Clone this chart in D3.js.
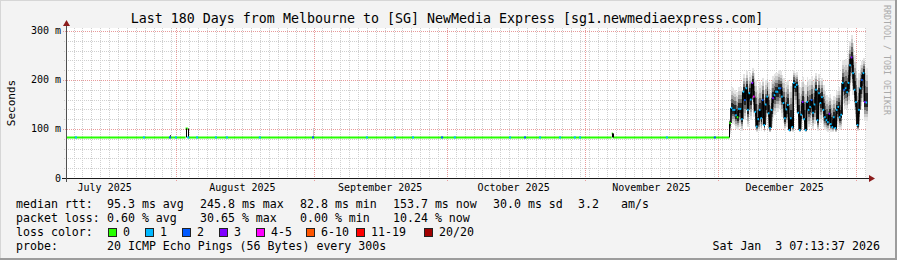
<!DOCTYPE html>
<html>
<head>
<meta charset="utf-8">
<script src="https://cdn.jsdelivr.net/npm/d3@7"></script>
<style>
  html, body { margin: 0; padding: 0; background: #f3f3f3; }
  svg { display: block; }
  text { font-family: 'DejaVu Sans Mono', monospace; fill: #000; white-space: pre; }
</style>
</head>
<body>
<div id="chart"></div>
<script>
// --- data ---
const title = 'Last 180 Days from Melbourne to [SG] NewMedia Express [sg1.newmediaexpress.com]';
const rangeStart = '2025-07-07T07:13';
const rangeEnd = '2026-01-03T07:13';
const yTicks = [0, 100, 200, 300];
const yTickLabels = ['0', '100 m', '200 m', '300 m'];
const monthLabels = ['July 2025', 'August 2025', 'September 2025', 'October 2025', 'November 2025', 'December 2025'];
const monthLabelDates = ['2025-07-16T00:00', '2025-08-16T00:00', '2025-09-16T00:00', '2025-10-16T00:00', '2025-11-16T00:00', '2025-12-16T00:00'];

// quiet period: median rtt (ms) as steps [time, value]
const flatMedian = [
    ['2025-07-07T07:13', 82.8],
    ['2025-08-03T05:00', 101],
    ['2025-08-03T17:00', 82.8],
    ['2025-11-07T02:00', 91],
    ['2025-11-07T08:00', 82.8],
];
// quiet period: intervals with packet loss [time, lost pings]
const flatLoss = [
    ['2025-07-09T13:00', 1], ['2025-07-24T20:00', 1], ['2025-07-30T17:00', 2],
    ['2025-08-01T01:00', 1], ['2025-08-03T19:00', 1], ['2025-08-05T19:00', 1],
    ['2025-08-10T01:00', 1], ['2025-08-12T12:00', 1], ['2025-08-19T22:00', 1],
    ['2025-08-31T21:00', 2], ['2025-09-13T00:00', 1], ['2025-09-19T07:00', 1],
    ['2025-09-23T09:00', 1], ['2025-09-29T22:00', 2], ['2025-10-02T19:00', 1],
    ['2025-10-15T05:00', 1], ['2025-10-18T14:00', 2], ['2025-10-21T23:00', 1],
    ['2025-10-26T11:00', 1], ['2025-10-29T19:00', 1], ['2025-10-30T23:00', 1],
    ['2025-11-19T12:00', 1], ['2025-11-30T07:00', 2],
];
// quiet period: isolated smoke [time, low ms, high ms]
const flatSmoke = [
    ['2025-07-30T15:00', 83, 87],
    ['2025-08-31T20:00', 83, 102],
    ['2025-11-07T03:00', 83, 92],
];

// busy period, one value every 8 hours from noisyStart
const noisyStart = '2025-12-03T14:00';
const noisyStepHours = 8;
const noisyMedian = [
    112, 143, 139, 139, 128, 124, 141, 141, 120, 176,
    159, 183, 139, 173, 160, 194, 166, 135, 105, 120,
    139, 122, 159, 108, 150, 166, 132, 102, 139, 163,
    169, 176, 176, 183, 183, 166, 153, 122, 140, 149,
    98, 122, 104, 194, 186, 190, 133, 98, 129, 155,
    120, 98, 155, 139, 145, 159, 133, 150, 180, 118,
    173, 153, 165, 139, 124, 118, 114, 131, 110, 104,
    124, 102, 139, 145, 124, 129, 194, 180, 183, 175,
    194, 230, 246, 214, 180, 155, 108, 139, 183, 200,
    214, 155, 154];
const noisyHigh = [
    120, 185, 183, 180, 176, 175, 186, 186, 175, 212,
    205, 218, 200, 214, 210, 225, 214, 200, 180, 185,
    195, 190, 205, 180, 200, 210, 195, 175, 195, 208,
    212, 215, 215, 220, 218, 210, 204, 190, 196, 200,
    175, 188, 185, 220, 214, 216, 198, 185, 196, 206,
    192, 190, 206, 200, 202, 208, 198, 205, 215, 190,
    212, 200, 205, 190, 178, 170, 166, 172, 162, 160,
    168, 165, 178, 185, 180, 190, 240, 238, 242, 240,
    255, 280, 292, 275, 250, 235, 205, 215, 230, 238,
    245, 228, 225];
const noisyLow = [
    90, 112, 110, 108, 100, 98, 105, 105, 96, 135,
    118, 140, 104, 130, 118, 150, 125, 100, 93, 95,
    104, 96, 118, 93, 110, 125, 100, 93, 104, 122,
    128, 134, 134, 140, 140, 125, 112, 96, 104, 108,
    93, 96, 93, 150, 142, 146, 100, 93, 98, 116,
    96, 93, 114, 104, 108, 118, 100, 110, 138, 95,
    130, 112, 122, 104, 98, 95, 94, 100, 94, 93,
    98, 93, 104, 106, 98, 100, 150, 138, 140, 134,
    150, 180, 195, 170, 140, 116, 95, 104, 138, 155,
    165, 116, 116];
const noisyLoss = [
    0, 1, 1, 1, 1, 0, 1, 1, 1, 1,
    2, 1, 1, 1, 1, 3, 4, 1, 1, 1,
    1, 1, 2, 1, 1, 1, 1, 1, 1, 3,
    1, 1, 1, 1, 2, 1, 1, 1, 1, 1,
    1, 1, 1, 1, 1, 1, 1, 1, 1, 3,
    1, 1, 1, 1, 1, 2, 1, 1, 1, 1,
    1, 1, 1, 1, 1, 1, 1, 3, 1, 1,
    1, 1, 1, 1, 1, 1, 1, 2, 1, 1,
    1, 1, 3, 1, 1, 1, 1, 1, 1, 2,
    1, 3, 1];

const lossLabels = ['0', '1', '2', '3', '4-5', '6-10', '11-19', '20/20'];
const lossColors = ['#26ff00', '#00b8ff', '#0059ff', '#7e00ff', '#ff00ff', '#ff5500', '#ff0000', '#a10000'];

const statRows = [
    ['median rtt:', ['95.3 ms avg', '245.8 ms max', '82.8 ms min', '153.7 ms now', '30.0 ms sd', '3.2', 'am/s']],
    ['packet loss:', ['0.60 % avg', '30.65 % max', '0.00 % min', '10.24 % now']],
];
const probeText = '20 ICMP Echo Pings (56 Bytes) every 300s';
const stampText = 'Sat Jan  3 07:13:37 2026';

// --- drawing ---
const width = 897;
const height = 260;
const parse = d3.utcParse('%Y-%m-%dT%H:%M');

const x = d3.scaleUtc().domain([parse(rangeStart), parse(rangeEnd)]).range([66, 866]);
const y = d3.scaleLinear().domain([0, 306]).range([178, 28]);

const lossBucket = (n) => (n <= 3 ? n : n <= 5 ? 4 : n <= 10 ? 5 : n < 20 ? 6 : 7);

const svg = d3.select('#chart').append('svg')
    .attr('width', width).attr('height', height);

// frame
svg.append('rect').attr('width', width).attr('height', height).attr('fill', '#f3f3f3');
svg.append('rect').attr('x', 0).attr('y', height - 2).attr('width', width).attr('height', 2).attr('fill', '#9c9c9c');
svg.append('rect').attr('x', width - 2).attr('y', 0).attr('width', 2).attr('height', height).attr('fill', '#9c9c9c');
svg.append('rect').attr('x', 0).attr('y', 0).attr('width', width - 2).attr('height', 1).attr('fill', '#d6d6d6');
svg.append('rect').attr('x', 0).attr('y', 0).attr('width', 1).attr('height', height - 2).attr('fill', '#d6d6d6');

// canvas
const [cx0, cx1] = x.range();
svg.append('rect')
    .attr('x', cx0).attr('y', y(306))
    .attr('width', cx1 - cx0).attr('height', y(0) - y(306))
    .attr('fill', '#ffffff');

const grid = svg.append('g').attr('shape-rendering', 'crispEdges');
const px = (v) => Math.round(v) + 0.5;

// minor grid, every second day and every 20 ms
const days = d3.utcDay.range(...x.domain()).filter((d) => Math.floor(d / 864e5) % 2 === 0);
grid.selectAll('.vminor').data(days).join('line')
    .attr('x1', (d) => px(x(d))).attr('x2', (d) => px(x(d)))
    .attr('y1', y(306)).attr('y2', y(0) + 2)
    .attr('stroke', '#cfcfcf').attr('stroke-dasharray', '1,1');
const minorY = d3.range(20, 306, 20).filter((v) => v % 100 !== 0);
grid.selectAll('.hminor').data(minorY).join('line')
    .attr('x1', cx0 - 2).attr('x2', cx1)
    .attr('y1', (d) => px(y(d))).attr('y2', (d) => px(y(d)))
    .attr('stroke', '#cfcfcf').attr('stroke-dasharray', '1,1');

// major grid, month starts and every 100 ms
const months = d3.utcMonth.range(...x.domain());
grid.selectAll('.vmajor').data(months).join('line')
    .attr('x1', (d) => px(x(d))).attr('x2', (d) => px(x(d)))
    .attr('y1', y(306)).attr('y2', y(0) + 3)
    .attr('stroke', '#e79a9a').attr('stroke-dasharray', '1,1');
grid.selectAll('.hmajor').data(yTicks.filter((v) => v > 0)).join('line')
    .attr('x1', cx0 - 3).attr('x2', cx1)
    .attr('y1', (d) => px(y(d))).attr('y2', (d) => px(y(d)))
    .attr('stroke', '#e79a9a').attr('stroke-dasharray', '1,1');

// busy period points
const t0 = parse(noisyStart);
const noisy = noisyMedian.map((m, i) => ({
    t: d3.utcHour.offset(t0, i * noisyStepHours),
    med: m,
    lo: noisyLow[i],
    hi: noisyHigh[i],
    loss: noisyLoss[i],
}));
const stepPx = x(d3.utcHour.offset(t0, noisyStepHours)) - x(t0);

// smoke: shaded bands from outer spread towards the median
const shades = [
    [1.0, '#e4e4e4'],
    [0.8, '#cacaca'],
    [0.62, '#a2a2a2'],
    [0.44, '#6c6c6c'],
    [0.26, '#262626'],
];
const smoke = svg.append('g').attr('shape-rendering', 'crispEdges');
shades.forEach(([f, color]) => {
    smoke.append('g').selectAll('rect').data(noisy).join('rect')
        .attr('x', (d) => x(d.t))
        .attr('width', stepPx + 0.4)
        .attr('y', (d) => y(d.med + (d.hi - d.med) * f))
        .attr('height', (d) => y(d.med - (d.med - d.lo) * f) - y(d.med + (d.hi - d.med) * f))
        .attr('fill', color);
});
smoke.append('g').selectAll('rect').data(flatSmoke).join('rect')
    .attr('x', (d) => x(parse(d[0])))
    .attr('width', 1.5)
    .attr('y', (d) => y(d[2]))
    .attr('height', (d) => y(d[1]) - y(d[2]))
    .attr('fill', (d) => (d[2] - d[1] > 15 ? '#c8c8c8' : '#444'));

// quiet period median: horizontal steps plus black risers
const flatPts = flatMedian.map(([t, v]) => ({ t: parse(t), v }));
flatPts.push({ t: t0, v: noisy[0].med });
const medLines = svg.append('g');
medLines.append('g').selectAll('line').data(flatPts.slice(0, -1)).join('line')
    .attr('x1', (d) => x(d.t)).attr('x2', (d, i) => x(flatPts[i + 1].t))
    .attr('y1', (d) => y(d.v)).attr('y2', (d) => y(d.v))
    .attr('stroke', lossColors[0]).attr('stroke-width', 2);

const flatRisers = flatPts.slice(1).map((d, i) => ({ t: d.t, a: flatPts[i].v, b: d.v }));
medLines.append('g').selectAll('line').data(flatRisers).join('line')
    .attr('x1', (d) => px(x(d.t))).attr('x2', (d) => px(x(d.t)))
    .attr('y1', (d) => y(d.a)).attr('y2', (d) => y(d.b))
    .attr('stroke', '#000').attr('stroke-width', 1);

const noisyRisers = noisy.slice(1).map((d, i) => ({ t: d.t, a: noisy[i].med, b: d.med }));
medLines.append('g').selectAll('line').data(noisyRisers).join('line')
    .attr('x1', (d) => x(d.t)).attr('x2', (d) => x(d.t))
    .attr('y1', (d) => y(d.a)).attr('y2', (d) => y(d.b))
    .attr('stroke', '#000').attr('stroke-width', 1.6);

// busy period median marks coloured by loss
medLines.append('g').selectAll('rect').data(noisy).join('rect')
    .attr('x', (d) => x(d.t) - 0.2).attr('width', 1.6)
    .attr('y', (d) => y(d.med) - 1).attr('height', 2)
    .attr('fill', (d) => lossColors[lossBucket(d.loss)]);

// quiet period loss marks
medLines.append('g').selectAll('rect').data(flatLoss).join('rect')
    .attr('x', (d) => x(parse(d[0])) - 1).attr('width', 2)
    .attr('y', y(82.8) - 1).attr('height', 2)
    .attr('fill', (d) => lossColors[lossBucket(d[1])]);

// axes
const axes = svg.append('g').attr('shape-rendering', 'crispEdges');
axes.append('line').attr('x1', cx0 - 4).attr('x2', cx1 + 4)
    .attr('y1', px(y(0))).attr('y2', px(y(0))).attr('stroke', '#1a1a1a');
axes.append('line').attr('x1', px(cx0)).attr('x2', px(cx0))
    .attr('y1', y(0) + 4).attr('y2', y(306) - 3).attr('stroke', '#505050');
svg.append('path')
    .attr('d', `M${cx1 + 3},${px(y(0)) - 3.5}L${cx1 + 9},${px(y(0))}L${cx1 + 3},${px(y(0)) + 3.5}Z`)
    .attr('fill', '#8b1c1c');
svg.append('path')
    .attr('d', `M${px(cx0) - 3.5},${y(306) - 2}L${px(cx0)},${y(306) - 8}L${px(cx0) + 3.5},${y(306) - 2}Z`)
    .attr('fill', '#8b1c1c');

// tick labels
svg.append('g').selectAll('text').data(yTicks).join('text')
    .attr('x', 61).attr('y', (d) => y(d) + 3.5)
    .attr('text-anchor', 'end').attr('font-size', 10)
    .text((d, i) => yTickLabels[i]);
svg.append('g').selectAll('text').data(monthLabelDates).join('text')
    .attr('x', (d) => x(parse(d))).attr('y', 191)
    .attr('text-anchor', 'middle').attr('font-size', 10)
    .text((d, i) => monthLabels[i]);

// titles
svg.append('text').attr('x', 447).attr('y', 23)
    .attr('text-anchor', 'middle').attr('font-size', 13.3).text(title);
svg.append('text').attr('transform', 'translate(15,103) rotate(-90)')
    .attr('text-anchor', 'middle').attr('font-size', 11).text('Seconds');
svg.append('text').attr('transform', 'translate(884,60) rotate(90)')
    .attr('text-anchor', 'middle').attr('font-size', 8.3).style('fill', '#aaaaaa')
    .text('RRDTOOL / TOBI OETIKER');

// legend
const legend = svg.append('g').attr('font-size', 11.6);
const statX = [107, 200, 300, 393, 493, 578, 621];
statRows.forEach(([label, items], r) => {
    const yy = 208 + r * 14;
    legend.append('text').attr('x', 16).attr('y', yy).text(label);
    items.forEach((s, i) => legend.append('text').attr('x', statX[i]).attr('y', yy).text(s));
});
legend.append('text').attr('x', 16).attr('y', 236).text('loss color:');
const boxX = [108, 145, 182, 219, 256, 306, 356, 424];
lossLabels.forEach((l, i) => {
    legend.append('rect').attr('x', boxX[i] + 0.5).attr('y', 228.5)
        .attr('width', 8).attr('height', 8)
        .attr('fill', lossColors[i]).attr('stroke', '#222').attr('stroke-width', 1);
    legend.append('text').attr('x', boxX[i] + 15).attr('y', 236).text(l);
});
legend.append('text').attr('x', 16).attr('y', 250).text('probe:');
legend.append('text').attr('x', 107).attr('y', 250).text(probeText);
legend.append('text').attr('x', 880).attr('y', 250).attr('text-anchor', 'end').text(stampText);
</script>
</body>
</html>
